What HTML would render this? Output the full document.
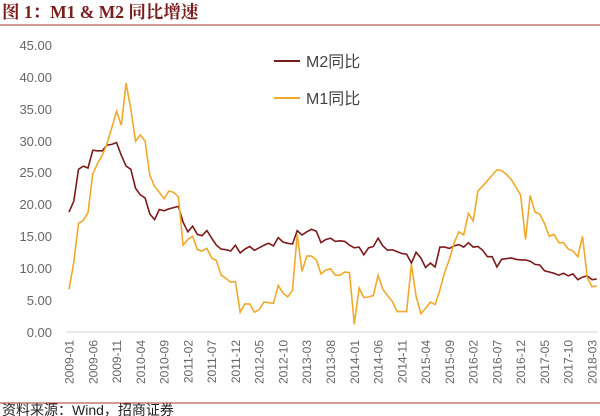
<!DOCTYPE html>
<html><head><meta charset="utf-8"><style>
body{margin:0;background:#fff;width:600px;height:416px;overflow:hidden}
svg{display:block}
</style></head><body>
<svg id="s" width="600" height="416" xmlns="http://www.w3.org/2000/svg" font-family="Liberation Sans, Noto Sans CJK SC, sans-serif">
<text x="2" y="18" font-family="Liberation Serif, Noto Serif CJK SC, serif" font-weight="bold" font-size="17.5" fill="#7a1d1d">图 1：M1 &amp; M2 同比增速</text>
<line x1="0" y1="25" x2="600" y2="25" stroke="#a33" stroke-width="1"/>
<g font-size="13" fill="#666" text-anchor="end">
<text x="52" y="50">45.00</text><text x="52" y="82">40.00</text><text x="52" y="114">35.00</text>
<text x="52" y="146">30.00</text><text x="52" y="177">25.00</text><text x="52" y="209">20.00</text>
<text x="52" y="241">15.00</text><text x="52" y="273">10.00</text><text x="52" y="305">5.00</text>
<text x="52" y="337">0.00</text>
</g>
<line x1="66" y1="332" x2="598" y2="332" stroke="#d9d9d9" stroke-width="1"/>
<g id="xl" font-size="12" fill="#666" text-anchor="end">
<text transform="translate(73.5,340) rotate(-90)">2009-01</text>
<text transform="translate(97.3,340) rotate(-90)">2009-06</text>
<text transform="translate(121,340) rotate(-90)">2009-11</text>
<text transform="translate(144.8,340) rotate(-90)">2010-04</text>
<text transform="translate(168.6,340) rotate(-90)">2010-09</text>
<text transform="translate(192.3,340) rotate(-90)">2011-02</text>
<text transform="translate(216.1,340) rotate(-90)">2011-07</text>
<text transform="translate(239.9,340) rotate(-90)">2011-12</text>
<text transform="translate(263.7,340) rotate(-90)">2012-05</text>
<text transform="translate(287.4,340) rotate(-90)">2012-10</text>
<text transform="translate(311.2,340) rotate(-90)">2013-03</text>
<text transform="translate(335,340) rotate(-90)">2013-08</text>
<text transform="translate(358.8,340) rotate(-90)">2014-01</text>
<text transform="translate(382.5,340) rotate(-90)">2014-06</text>
<text transform="translate(406.3,340) rotate(-90)">2014-11</text>
<text transform="translate(430.1,340) rotate(-90)">2015-04</text>
<text transform="translate(453.9,340) rotate(-90)">2015-09</text>
<text transform="translate(477.6,340) rotate(-90)">2016-02</text>
<text transform="translate(501.4,340) rotate(-90)">2016-07</text>
<text transform="translate(525.2,340) rotate(-90)">2016-12</text>
<text transform="translate(548.9,340) rotate(-90)">2017-05</text>
<text transform="translate(572.7,340) rotate(-90)">2017-10</text>
<text transform="translate(596.5,340) rotate(-90)">2018-03</text>
</g>
<polyline id="m2" fill="none" stroke="#7b1a1a" stroke-width="1.6"/>
<polyline id="m1" fill="none" stroke="#f0a92a" stroke-width="1.6"/>
<line x1="274" y1="61" x2="300" y2="61" stroke="#7b1a1a" stroke-width="2"/>
<text x="306" y="67" font-size="16" fill="#444">M2同比</text>
<line x1="274" y1="98" x2="300" y2="98" stroke="#f0a92a" stroke-width="2"/>
<text x="306" y="104" font-size="16" fill="#444">M1同比</text>
<line x1="0" y1="403" x2="600" y2="403" stroke="#a33" stroke-width="1"/>
<text x="2" y="415" font-size="14" fill="#222">资料来源：Wind，招商证券</text>
</svg>
<script>
var m2=[18.8,20.5,25.5,26,25.7,28.5,28.4,28.4,29.3,29.4,29.7,27.7,26,25.5,22.5,21.5,21,18.5,17.6,19.2,19,19.3,19.5,19.7,17.2,15.7,16.6,15.3,15.1,15.9,14.7,13.6,13,12.9,12.7,13.6,12.4,13,13.4,12.8,13.2,13.6,13.9,13.5,14.8,14.1,13.9,13.8,15.9,15.2,15.7,16.1,15.8,14,14.5,14.7,14.2,14.3,14.2,13.6,13.2,13.3,12.1,13.2,13.4,14.7,13.5,12.8,12.9,12.6,12.3,12.2,10.8,12.5,11.6,10.1,10.8,10.2,13.3,13.3,13.1,13.5,13.7,13.3,14,13.3,13.4,12.8,11.8,11.8,10.2,11.4,11.5,11.6,11.4,11.3,11.3,11.1,10.6,10.5,9.6,9.4,9.2,8.9,9.2,8.8,9.1,8.2,8.6,8.8,8.2,8.3];
var m1=[6.7,10.9,17,17.5,18.7,24.8,26.4,27.7,29.5,32,34.6,32.4,39,34.9,29.9,30.9,29.9,24.6,22.8,21.9,20.9,22.1,21.9,21.2,13.6,14.5,15,12.9,12.7,13.1,11.6,11.2,8.9,8.4,7.8,7.9,3.1,4.4,4.4,3.1,3.5,4.7,4.6,4.5,7.3,6.1,5.5,6.5,15.3,9.5,11.9,11.9,11.3,9.1,9.7,9.9,8.9,8.9,9.4,9.3,1.2,6.9,5.4,5.5,5.7,8.9,6.7,5.7,4.8,3.2,3.2,3.2,10.6,5.6,2.9,3.7,4.7,4.3,6.6,9.3,11.4,14,15.7,15.2,18.6,17.4,22.1,22.9,23.7,24.6,25.4,25.3,24.7,23.9,22.7,21.4,14.5,21.4,18.8,18.5,17,15,15.3,14,14,13,12.7,11.8,15,8.5,7.1,7.2];
function pts(a){return a.map(function(v,i){return (69+i*4.755).toFixed(1)+","+(332-v*6.38).toFixed(1)}).join(" ")}
document.getElementById("m2").setAttribute("points",pts(m2));
document.getElementById("m1").setAttribute("points",pts(m1));
</script>
</body></html>
